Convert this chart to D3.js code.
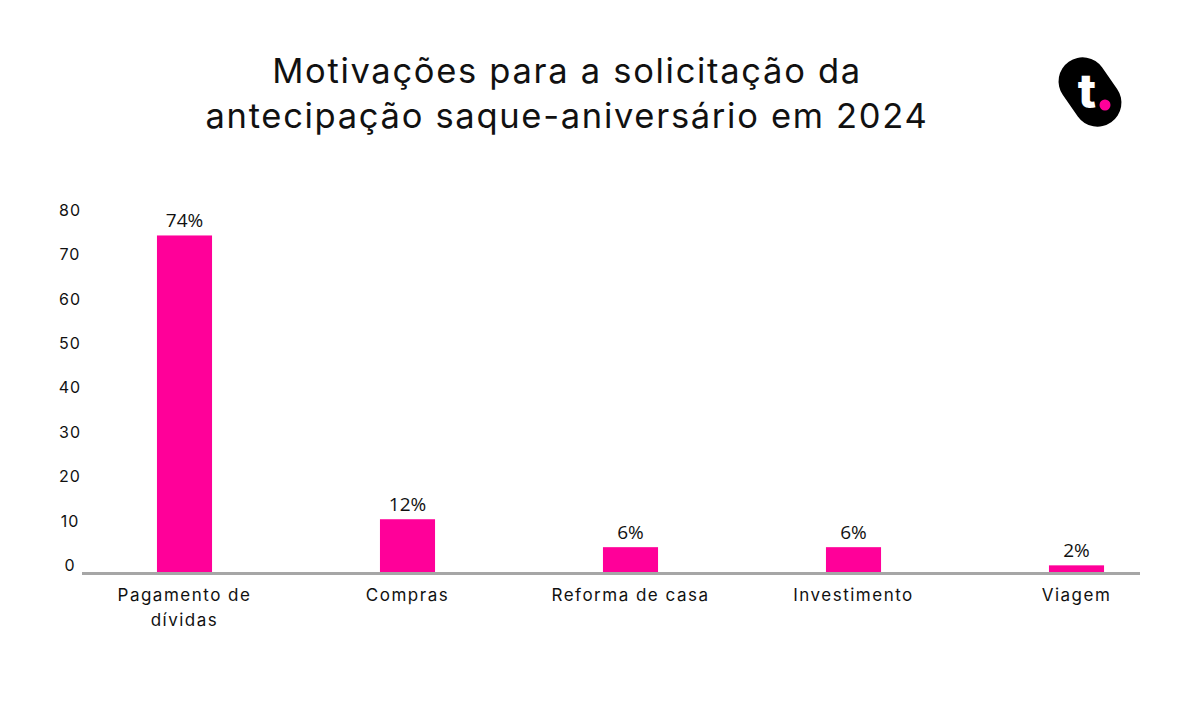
<!DOCTYPE html>
<html><head><meta charset="utf-8">
<script src="https://cdn.jsdelivr.net/npm/d3@7"></script>
<style>
html,body{margin:0;padding:0;background:#fff;}
svg{display:block;}
</style></head>
<body>
<script>
const categories = ["Pagamento de|dívidas", "Compras", "Reforma de casa", "Investimento", "Viagem"];
const values = [75.9, 11.9, 5.6, 5.6, 1.5];
const valueLabels = ["74%", "12%", "6%", "6%", "2%"];
const yTicks = [0, 10, 20, 30, 40, 50, 60, 70, 80];
const titleLines = ["Motivações para a solicitação da", "antecipação saque-aniversário em 2024"];

const W = 1200, H = 720;
const pink = "#ff0099";
const ink = "#111111";
const font = "Inter, 'Noto Sans', sans-serif";

const svg = d3.select("body").append("svg").attr("width", W).attr("height", H);

svg.selectAll("text.title").data(titleLines).enter().append("text")
  .attr("class", "title")
  .attr("x", 567).attr("y", (d, i) => 83 + i * 45)
  .attr("text-anchor", "middle")
  .attr("font-family", font).attr("font-size", 34.5).attr("font-weight", 400)
  .attr("letter-spacing", 1.7)
  .attr("fill", ink).text(d => d);

const x = d3.scaleBand().domain(categories).range([73, 1188])
  .paddingInner(0.753).paddingOuter(0.753 / 2);
const y = d3.scaleLinear().domain([0, 80]).range([572, 572 - 80 * 4.434]);

// y tick labels
svg.selectAll("text.ytick").data(yTicks).enter().append("text")
  .attr("class", "ytick")
  .attr("x", 70).attr("y", d => y(d) - 5.5)
  .attr("dominant-baseline", "middle").attr("text-anchor", "middle")
  .attr("font-family", font).attr("font-size", 16).attr("letter-spacing", 1)
  .attr("fill", ink)
  .text(d => d);

// bars
svg.selectAll("rect.bar").data(values).enter().append("rect")
  .attr("class", "bar")
  .attr("x", (d, i) => x(categories[i]))
  .attr("width", x.bandwidth())
  .attr("y", d => y(d))
  .attr("height", d => y(0) - y(d))
  .attr("fill", pink);

// axis line
svg.append("line").attr("x1", 82).attr("x2", 1140)
  .attr("y1", 573.5).attr("y2", 573.5)
  .attr("stroke", "#a6a6a6").attr("stroke-width", 3);

// value labels
svg.selectAll("text.vlabel").data(values).enter().append("text")
  .attr("class", "vlabel")
  .attr("x", (d, i) => x(categories[i]) + x.bandwidth() / 2)
  .attr("y", d => y(d) - 8)
  .attr("text-anchor", "middle")
  .attr("font-family", "'Open Sans', 'Noto Sans', sans-serif").attr("font-size", 19)
  .attr("fill", ink)
  .text((d, i) => valueLabels[i]);

// category labels
const cat = svg.selectAll("text.cat").data(categories).enter().append("text")
  .attr("class", "cat")
  .attr("x", d => x(d) + x.bandwidth() / 2)
  .attr("y", 601)
  .attr("text-anchor", "middle")
  .attr("font-family", font).attr("font-size", 17).attr("letter-spacing", 1.5)
  .attr("fill", ink);
cat.each(function(d) {
  const parts = d.split("|");
  const t = d3.select(this);
  parts.forEach((p, i) => {
    t.append("tspan").attr("x", x(d) + x.bandwidth() / 2).attr("dy", i === 0 ? 0 : 25).text(p);
  });
});

// logo
const logo = svg.append("g").attr("transform", "translate(1090,92)");
logo.append("rect").attr("x", -24).attr("y", -37).attr("width", 48).attr("height", 74)
  .attr("rx", 24).attr("fill", "#000").attr("transform", "rotate(-35)");
logo.append("text").attr("x", -3).attr("y", 16)
  .attr("text-anchor", "middle")
  .attr("font-family", "Inter, sans-serif").attr("font-weight", 800).attr("font-size", 48)
  .attr("fill", "#fff").text("t");
logo.append("circle").attr("cx", 15).attr("cy", 13).attr("r", 5.5).attr("fill", pink);
</script>
</body></html>
